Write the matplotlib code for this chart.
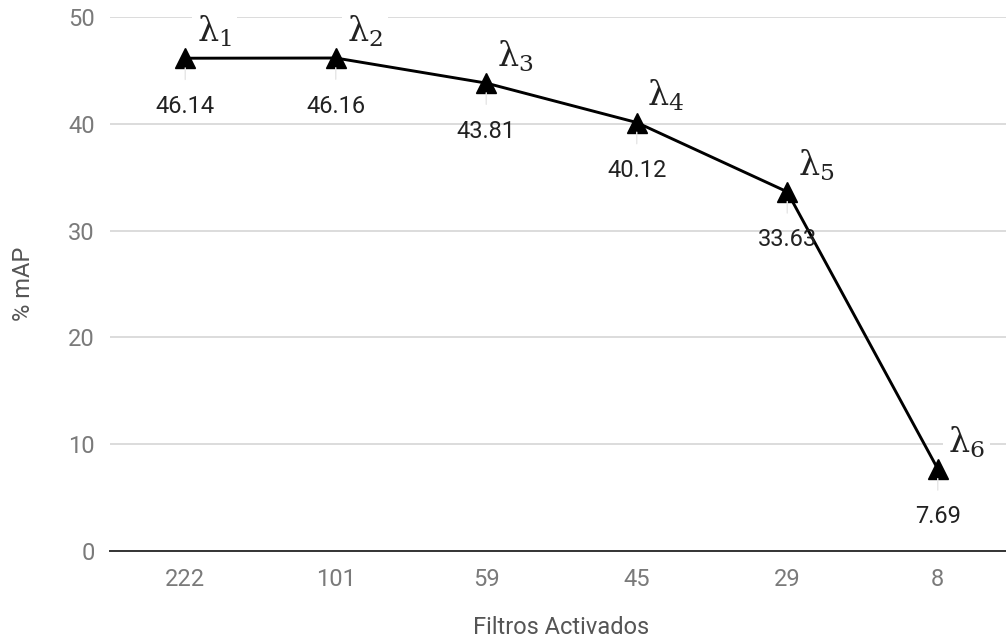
import matplotlib
matplotlib.use("Agg")
import matplotlib.pyplot as plt

categories = ["222", "101", "59", "45", "29", "8"]
values = [46.14, 46.16, 43.81, 40.12, 33.63, 7.69]
lambda_labels = ["λ$_1$", "λ$_2$", "λ$_3$", "λ$_4$", "λ$_5$", "λ$_6$"]
value_labels = ["46.14", "46.16", "43.81", "40.12", "33.63", "7.69"]
yticks = [0, 10, 20, 30, 40, 50]

plt.rcParams['font.family'] = ['Roboto', 'DejaVu Sans']
plt.rcParams['mathtext.fontset'] = 'dejavuserif'

W, H = 1006, 639
PX = 72 / 100  # points per pixel
fig = plt.figure(figsize=(W/100, H/100), dpi=100)
ax = fig.add_axes([110/W, (H-551)/H, 903/W, 534/H])

x = list(range(len(categories)))
ax.plot(x, values, color='black', lw=2.1, marker='^', markersize=15, zorder=5)

FS = 17
ax.set_xlim(-0.5, 5.5)
ax.set_ylim(0, 50)
ax.set_yticks(yticks)
ax.set_xticks(x)
ax.set_xticklabels(categories)
ax.grid(axis='y', color='#d9d9d9', lw=1.3)
ax.set_axisbelow(True)
for s in ['top', 'right', 'left']:
    ax.spines[s].set_visible(False)
ax.spines['bottom'].set_color('#333333')
ax.spines['bottom'].set_linewidth(1.4)
ax.spines['bottom'].set_zorder(3)
ax.tick_params(axis='both', length=0, labelsize=FS, labelcolor='#7a7a7a')
ax.tick_params(axis='x', pad=12)
ax.tick_params(axis='y', pad=11)
ax.set_xlabel("Filtros Activados", fontsize=FS, color='#555555', labelpad=18)
ax.set_ylabel("% mAP", fontsize=FS, color='#555555', labelpad=24)

for xi, v, vl, ll in zip(x, values, value_labels, lambda_labels):
    ax.annotate(vl, xy=(xi, v), xytext=(0, -48 * PX), textcoords='offset points',
                ha='center', va='center', fontsize=FS, color='#222222', zorder=6,
                arrowprops=dict(arrowstyle='-', color='#e6e6e6', lw=1.0,
                                shrinkA=9, shrinkB=7))
    ax.annotate(ll, xy=(xi, v), xytext=(29 * PX, 27 * PX), textcoords='offset points',
                ha='center', va='center', fontsize=24, color='#222222', zorder=4,
                family=['DejaVu Serif'],
                bbox=dict(boxstyle='square,pad=0.15', fc='white', ec='none'))

fig.savefig("out.png", dpi=100)
